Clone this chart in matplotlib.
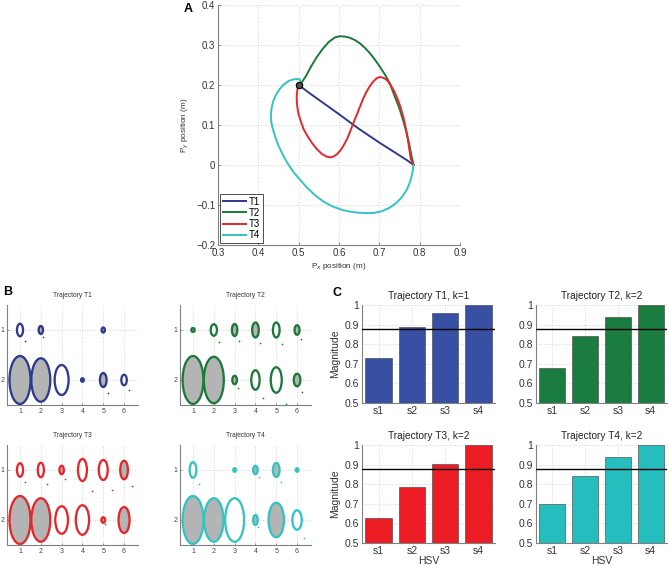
import matplotlib
matplotlib.use("Agg")
import matplotlib.pyplot as plt
from matplotlib.patches import Ellipse
import numpy as np

plt.rcParams['font.family'] = ['Liberation Sans', 'DejaVu Sans']

# ---------------- Panel A data ----------------
T1_x = [0.500, 0.525, 0.550, 0.575, 0.600, 0.627, 0.650, 0.675, 0.700, 0.725, 0.750, 0.770, 0.785]
T1_y = [0.200, 0.181, 0.163, 0.145, 0.127, 0.107, 0.090, 0.073, 0.056, 0.040, 0.024, 0.011, 0.000]

T2_x = [0.500, 0.504, 0.510, 0.519, 0.530, 0.545, 0.561, 0.575, 0.590, 0.602, 0.615, 0.627, 0.640,
        0.652, 0.665, 0.677, 0.690, 0.701, 0.714, 0.726, 0.738, 0.751, 0.760, 0.768, 0.775, 0.780, 0.785]
T2_y = [0.200, 0.203, 0.210, 0.224, 0.245, 0.270, 0.292, 0.308, 0.319, 0.322, 0.321, 0.318, 0.312,
        0.304, 0.292, 0.279, 0.262, 0.246, 0.226, 0.204, 0.172, 0.138, 0.108, 0.079, 0.048, 0.021, 0.000]

T3_x = [0.500, 0.497, 0.495, 0.496, 0.499, 0.505, 0.512, 0.522, 0.533, 0.545, 0.557, 0.569, 0.578,
        0.586, 0.595, 0.604, 0.612, 0.620, 0.628, 0.636, 0.645, 0.652, 0.660, 0.668, 0.677, 0.686,
        0.695, 0.703, 0.712, 0.720, 0.728, 0.736, 0.745, 0.753, 0.760, 0.766, 0.771, 0.775, 0.778, 0.785]
T3_y = [0.200, 0.190, 0.170, 0.150, 0.130, 0.110, 0.090, 0.072, 0.055, 0.040, 0.028, 0.021, 0.019,
        0.021, 0.027, 0.037, 0.050, 0.065, 0.085, 0.106, 0.128, 0.146, 0.166, 0.183, 0.198, 0.210,
        0.218, 0.220, 0.217, 0.211, 0.200, 0.186, 0.166, 0.143, 0.118, 0.090, 0.062, 0.035, 0.015, 0.000]

T4_x = [0.500, 0.505, 0.503, 0.496, 0.486, 0.475, 0.463, 0.453, 0.444, 0.437, 0.433, 0.431, 0.432,
        0.436, 0.442, 0.450, 0.460, 0.472, 0.485, 0.500, 0.519, 0.540, 0.562, 0.585, 0.610, 0.635,
        0.660, 0.685, 0.705, 0.725, 0.742, 0.757, 0.769, 0.777, 0.782, 0.784, 0.785]
T4_y = [0.200, 0.207, 0.214, 0.215, 0.214, 0.210, 0.201, 0.190, 0.176, 0.160, 0.143, 0.125, 0.108,
        0.090, 0.070, 0.048, 0.027, 0.005, -0.015, -0.033, -0.055, -0.075, -0.092, -0.104, -0.113, -0.118,
        -0.120, -0.120, -0.116, -0.107, -0.095, -0.079, -0.060, -0.040, -0.020, -0.005, 0.000]

traj_labels = ["T1", "T2", "T3", "T4"]
line_colors = ["#2e3a8f", "#1b7a3a", "#e5262b", "#33c3c3"]
bar_colors = ["#3850a3", "#1a7d3f", "#ec1c24", "#25bdbd"]

# ---------------- Panel B data (ellipses: col, row, width, height, filled) ----------------
B_T1_cols = [1, 2, 5, 1, 2, 3, 4, 5, 6]
B_T1_rows = [1, 1, 1, 2, 2, 2, 2, 2, 2]
B_T1_w = [0.29, 0.21, 0.16, 1.01, 0.91, 0.67, 0.13, 0.32, 0.26]
B_T1_h = [0.25, 0.16, 0.10, 0.96, 0.87, 0.60, 0.07, 0.28, 0.21]
B_T1_fill = [0, 1, 1, 1, 1, 0, 1, 1, 0]
B_T1_dots_x = [1.24, 2.12, 5.24, 6.22]
B_T1_dots_y = [1.22, 1.13, 2.25, 2.19]

B_T2_cols = [1, 2, 3, 4, 5, 6, 1, 2, 3, 4, 5, 6]
B_T2_rows = [1, 1, 1, 1, 1, 1, 2, 2, 2, 2, 2, 2]
B_T2_w = [0.16, 0.30, 0.26, 0.32, 0.32, 0.24, 1.00, 0.96, 0.22, 0.40, 0.53, 0.32]
B_T2_h = [0.08, 0.23, 0.24, 0.30, 0.30, 0.19, 0.96, 0.93, 0.17, 0.39, 0.51, 0.25]
B_T2_fill = [1, 0, 1, 1, 0, 1, 1, 1, 1, 0, 0, 1]
B_T2_dots_x = [2.23, 3.20, 4.24, 5.26, 6.19, 3.16, 4.36, 5.47, 6.22]
B_T2_dots_y = [1.23, 1.21, 1.25, 1.27, 1.17, 2.15, 2.35, 2.47, 2.23]

B_T3_cols = [1, 2, 3, 4, 5, 6, 1, 2, 3, 4, 5, 6]
B_T3_rows = [1, 1, 1, 1, 1, 1, 2, 2, 2, 2, 2, 2]
B_T3_w = [0.29, 0.29, 0.21, 0.43, 0.43, 0.37, 1.01, 0.91, 0.61, 0.64, 0.18, 0.53]
B_T3_h = [0.27, 0.29, 0.17, 0.44, 0.40, 0.37, 0.96, 0.87, 0.55, 0.59, 0.11, 0.52]
B_T3_fill = [0, 0, 1, 0, 0, 1, 1, 1, 0, 0, 1, 1]
B_T3_dots_x = [1.24, 2.28, 3.16, 4.45, 5.41, 6.37, 5.10]
B_T3_dots_y = [1.23, 1.27, 1.17, 1.42, 1.39, 1.31, 2.08]

B_T4_cols = [1, 3, 4, 5, 6, 1, 2, 3, 4, 5, 6]
B_T4_rows = [1, 1, 1, 1, 1, 2, 2, 2, 2, 2, 2]
B_T4_w = [0.32, 0.13, 0.22, 0.32, 0.13, 1.00, 0.93, 0.91, 0.22, 0.74, 0.45]
B_T4_h = [0.31, 0.07, 0.17, 0.28, 0.07, 0.96, 0.87, 0.87, 0.20, 0.69, 0.39]
B_T4_fill = [0, 1, 1, 1, 1, 1, 1, 0, 1, 1, 0]
B_T4_dots_x = [1.27, 4.15, 5.25, 4.12, 6.35]
B_T4_dots_y = [1.27, 1.13, 1.23, 2.13, 2.35]

# ---------------- Panel C data ----------------
hsv_labels = ["s1", "s2", "s3", "s4"]
C_T1 = [0.73, 0.89, 0.96, 1.00]
C_T2 = [0.68, 0.84, 0.94, 1.00]
C_T3 = [0.63, 0.785, 0.905, 1.00]
C_T4 = [0.70, 0.84, 0.94, 1.00]
C_k = [1, 2, 2, 2]
threshold = 0.88

W, H = 669, 566
fig = plt.figure(figsize=(W / 100, H / 100), dpi=100)

def ax_px(x0, y0, x1, y1):
    return fig.add_axes([x0 / W, 1 - y1 / H, (x1 - x0) / W, (y1 - y0) / H])

spine_col = "#808080"
grid_kw = dict(color="#c8c8c8", linestyle=(0, (1, 2)), linewidth=0.6)

def style(ax, fs):
    for s in ["top", "right"]:
        ax.spines[s].set_visible(False)
    for s in ["left", "bottom"]:
        ax.spines[s].set_color(spine_col)
        ax.spines[s].set_linewidth(0.8)
    ax.tick_params(direction="in", length=2.5, width=0.6, color=spine_col,
                   labelsize=fs, labelcolor="#333333", pad=2)
    ax.grid(True, **grid_kw)
    ax.set_axisbelow(True)

# ---------------- Panel A ----------------
axA = ax_px(218, 5, 460, 245)
style(axA, 7)
xs = [T1_x, T2_x, T3_x, T4_x]
ys = [T1_y, T2_y, T3_y, T4_y]
for x, y, c, lab in zip(xs, ys, line_colors, traj_labels):
    axA.plot(x, y, color=c, lw=1.4, label=lab)
axA.plot([0.5], [0.2], marker="o", ms=4.5, mfc="#555555", mec="black", mew=0.9, ls="none")
axA.set_xlim(0.3, 0.9)
axA.set_ylim(-0.2, 0.4)
axA.set_xticks(np.arange(0.3, 0.91, 0.1))
axA.set_xticklabels(["0.3", "0.4", "0.5", "0.6", "0.7", "0.8", "0.9"])
axA.set_yticks(np.arange(-0.2, 0.41, 0.1))
axA.set_yticklabels(["\u22120.2", "\u22120.1", "0", "0.1", "0.2", "0.3", "0.4"])
axA.set_xlabel("P$_x$ position (m)", fontsize=5.9, color="#333333", labelpad=2)
axA.set_ylabel("P$_y$ position (m)", fontsize=5.9, color="#333333", labelpad=4)
leg = axA.legend(loc="lower left", fontsize=7, frameon=True, fancybox=False,
                 handlelength=2.4, borderpad=0.3, labelspacing=0.12, handletextpad=0.3,
                 borderaxespad=0.2)
leg.get_frame().set_edgecolor("black")
leg.get_frame().set_linewidth(0.6)
fig.text(188 / W, 1 - 9 / H, "A", fontsize=9, fontweight="bold", va="center", ha="center")

# ---------------- Panel B ----------------
B_sets = [
    (B_T1_cols, B_T1_rows, B_T1_w, B_T1_h, B_T1_fill, B_T1_dots_x, B_T1_dots_y),
    (B_T2_cols, B_T2_rows, B_T2_w, B_T2_h, B_T2_fill, B_T2_dots_x, B_T2_dots_y),
    (B_T3_cols, B_T3_rows, B_T3_w, B_T3_h, B_T3_fill, B_T3_dots_x, B_T3_dots_y),
    (B_T4_cols, B_T4_rows, B_T4_w, B_T4_h, B_T4_fill, B_T4_dots_x, B_T4_dots_y),
]
B_boxes = [(7, 305, 138, 405), (180, 305, 311, 405), (7, 445, 138, 545), (180, 445, 311, 545)]
for i, (cols, rows, ws, hs, fills, dx, dy) in enumerate(B_sets):
    ax = ax_px(*B_boxes[i])
    style(ax, 5)
    ax.tick_params(length=1.5, labelcolor="#444444")
    c = line_colors[i]
    for cx, ry, w, h, f in zip(cols, rows, ws, hs, fills):
        ax.add_patch(Ellipse((cx, ry), w, h, facecolor="#b4b4b4" if f else "white",
                             edgecolor=c, lw=1.65, zorder=3))
    ax.scatter(dx, dy, s=1.5, color=c, zorder=3, linewidths=0)
    ax.set_xlim(0.375, 6.67)
    ax.set_ylim(2.5, 0.5)
    ax.set_xticks([1, 2, 3, 4, 5, 6])
    ax.set_yticks([1, 2])
    ax.set_title("Trajectory " + traj_labels[i], fontsize=4.8, color="#333333", pad=6)
fig.text(8 / W, 1 - 292 / H, "B", fontsize=9, fontweight="bold", va="center", ha="center")

# ---------------- Panel C ----------------
C_vals = [C_T1, C_T2, C_T3, C_T4]
C_boxes = [(362, 305, 495, 403), (536, 305, 667, 403), (362, 445, 495, 543), (536, 445, 667, 543)]
for i, vals in enumerate(C_vals):
    ax = ax_px(*C_boxes[i])
    style(ax, 7.5)
    pos = np.arange(1, len(vals) + 1)
    ax.bar(pos, np.array(vals) - 0.5, bottom=0.5, width=0.8, color=bar_colors[i],
           edgecolor="#3a3a3a", linewidth=0.4, zorder=2)
    ax.axhline(threshold, color="black", lw=1.0, zorder=3)
    ax.set_xlim(0.5, 4.5)
    ax.set_ylim(0.5, 1.0)
    ax.set_xticks(pos)
    ax.set_xticklabels(hsv_labels)
    ax.set_yticks([0.5, 0.6, 0.7, 0.8, 0.9, 1.0])
    ax.set_yticklabels(["0.5", "0.6", "0.7", "0.8", "0.9", "1"])
    ax.tick_params(length=0)
    ax.set_title("Trajectory %s, k=%d" % (traj_labels[i], C_k[i]), fontsize=7.3,
                 color="#222222", pad=4)
    if i % 2 == 0:
        ax.set_ylabel("Magnitude", fontsize=7.5, color="#333333", labelpad=3)
    if i >= 2:
        ax.set_xlabel("HSV", fontsize=7.5, color="#333333", labelpad=0)
fig.text(337 / W, 1 - 293 / H, "C", fontsize=9, fontweight="bold", va="center", ha="center")

fig.savefig("out.png", dpi=100)
